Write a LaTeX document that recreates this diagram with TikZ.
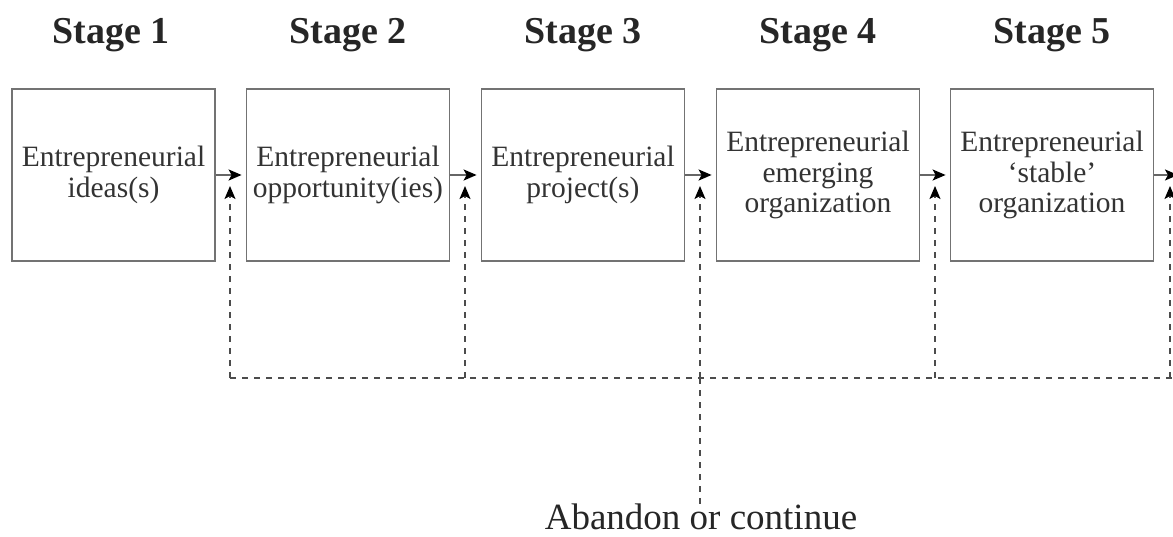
\documentclass[tikz,border=0pt]{standalone}
\usepackage{fontspec}
\setmainfont{Liberation Serif}
\usetikzlibrary{arrows.meta}
\begin{document}
\begin{tikzpicture}[x=1pt,y=-1pt,
  stagebox/.style={draw=black!55, line width=1.8pt, minimum width=203pt, minimum height=172pt,
    inner sep=0pt, align=center, font=\fontsize{29.5}{30.5}\selectfont, text=black!80},
  stagelabel/.style={font=\fontsize{38}{40}\selectfont\bfseries, text=black!85},
  tip/.style={-{Stealth[length=13pt,width=11pt,inset=3pt,color=black]}},
  flow/.style={draw=black!60, line width=1.8pt, tip, shorten >=4pt},
  feedback/.style={draw=black!70, line width=1.6pt, dash pattern=on 6pt off 6pt},
  feedarrow/.style={feedback, tip}]
\useasboundingbox (0,0) rectangle (1173,537);

% stage headings
\node[stagelabel] (s1) at (111,35) {Stage 1};
\node[stagelabel] (s2) at (348,35) {Stage 2};
\node[stagelabel] (s3) at (583,35) {Stage 3};
\node[stagelabel] (s4) at (818,35) {Stage 4};
\node[stagelabel] (s5) at (1052,35) {Stage 5};

% stage boxes
\node[stagebox] (b1) at (113.5,175) {Entrepreneurial\\ideas(s)};
\node[stagebox] (b2) at (348,175) {Entrepreneurial\\opportunity(ies)};
\node[stagebox] (b3) at (583,175) {Entrepreneurial\\project(s)};
\node[stagebox] (b4) at (818,175) {Entrepreneurial\\emerging\\organization};
\node[stagebox] (b5) at (1052,175) {Entrepreneurial\\`stable'\\organization};
\coordinate (out) at (1182,175);

% forward flow
\draw[flow] (b1.east) -- (b2.west);
\draw[flow] (b2.east) -- (b3.west);
\draw[flow] (b3.east) -- (b4.west);
\draw[flow] (b4.east) -- (b5.west);
\draw[flow] (b5.east) -- (out);

% feedback bus
\coordinate (d1) at (230,378);
\coordinate (d2) at (465,378);
\coordinate (d3) at (700,378);
\coordinate (d4) at (935,378);
\coordinate (d5) at (1170,378);
\coordinate (t1) at (230,186);
\coordinate (t2) at (465,186);
\coordinate (t3) at (700,186);
\coordinate (t4) at (935,186);
\coordinate (t5) at (1170,186);
\coordinate (busend) at (1173,378);

\node[font=\fontsize{37}{38}\selectfont, text=black!85, anchor=base, inner sep=0pt, text depth=0pt] (ab) at (701,529) {Abandon or continue};

\draw[feedback] (d1) -- (busend);
\foreach \i in {1,...,5}{\draw[feedarrow] (d\i) -- (t\i);}
\draw[feedback] (d3) -- ([yshift=-5pt]ab.north -| d3);
\end{tikzpicture}
\end{document}
